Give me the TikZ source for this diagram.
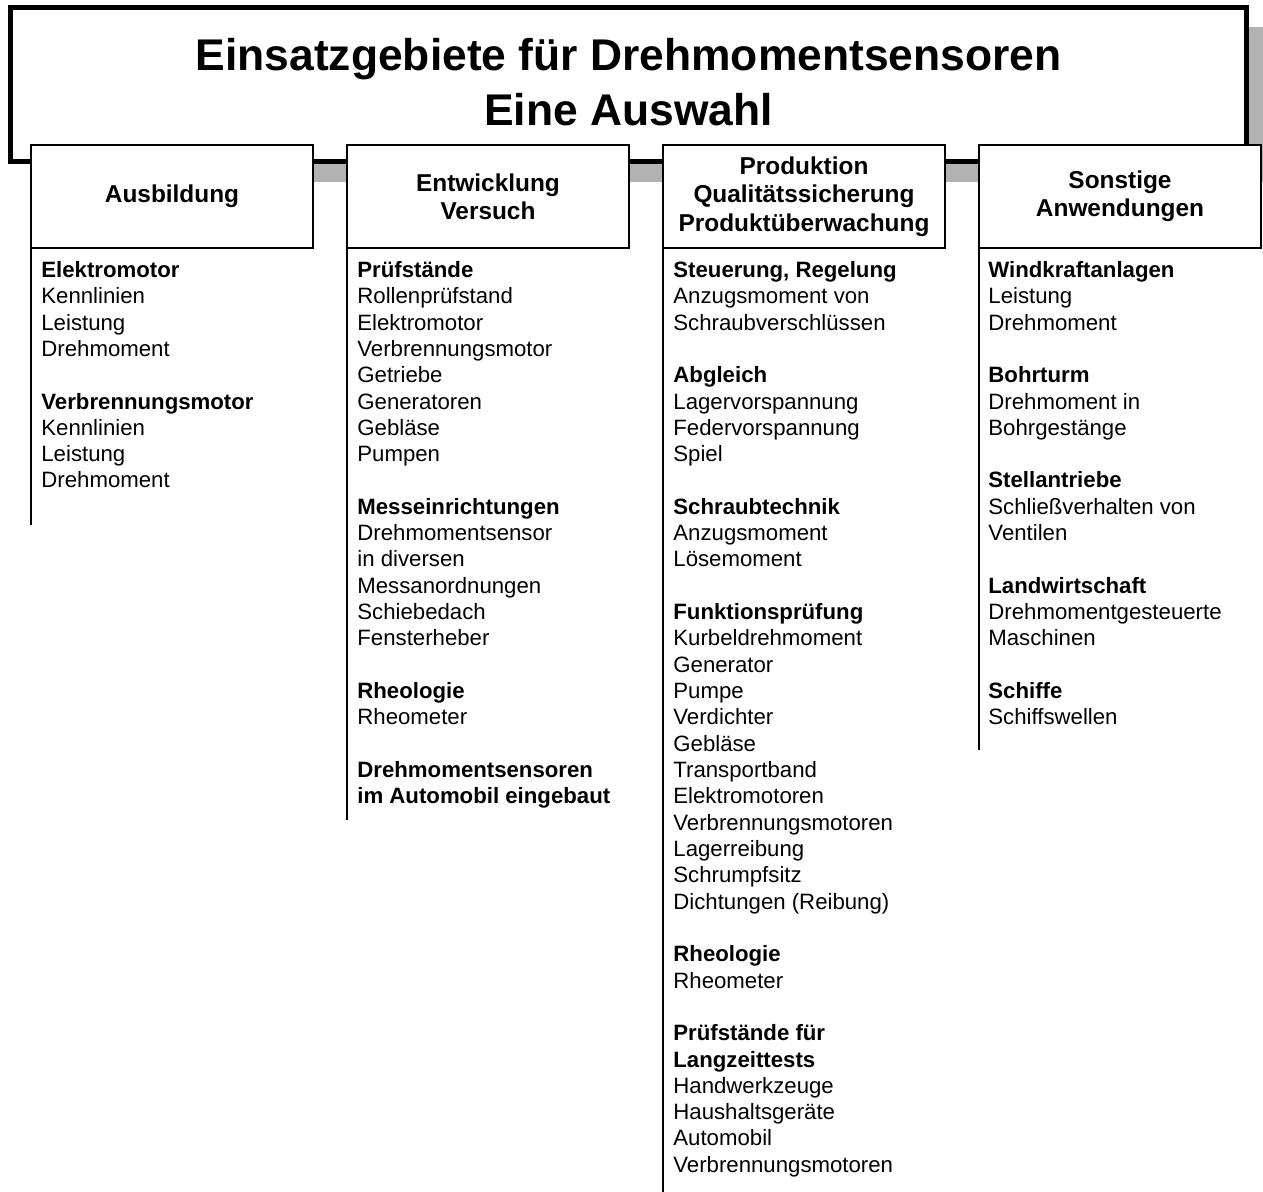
\documentclass[tikz,border=0pt]{standalone}
\usepackage{fontspec}
\setmainfont{Liberation Sans}
\usetikzlibrary{shadows}
\tikzset{
  titlebox/.style={draw,line width=2.5pt,fill=white,align=center,inner sep=0pt,outer sep=0pt,
    minimum width=617.85pt,minimum height=77.25pt,text depth=3pt,
    font=\fontsize{22.2}{27.2}\selectfont\bfseries,
    general shadow={fill=black!30,shadow xshift=10pt,shadow yshift=-10pt}},
  headbox/.style={draw,line width=0.75pt,fill=white,align=center,inner sep=0pt,outer sep=0pt,
    minimum width=141pt,minimum height=51.5pt,
    font=\fontsize{12.2}{14.2}\selectfont\bfseries},
  itemlist/.style={anchor=north west,align=left,inner sep=0pt,
    font=\fontsize{11.1}{13.16}\selectfont},
  colline/.style={line width=0.75pt}
}

\begin{document}
\begin{tikzpicture}[x=0.5pt,y=-0.5pt]
  \useasboundingbox (0,0) rectangle (1263,1192);

  % — Title box with shadow
  \node[titlebox] (title) at (628.65,84.75)
    {Einsatzgebiete für Drehmomentsensoren\\Eine Auswahl};

  % — Column heads
  \node[headbox] (h1) at (172,196.5)  {Ausbildung};
  \node[headbox] (h2) at (488,196.5)  {Entwicklung\\Versuch};
  \node[headbox] (h3) at (804,196.5)  {Produktion\\Qualitätssicherung\\Produktüberwachung};
  \node[headbox] (h4) at (1120,196.5) {Sonstige\\Anwendungen};

  % — Lines below the heads
  \coordinate (e1) at (31,525);
  \coordinate (e2) at (347,820);
  \coordinate (e3) at (663,1192);
  \coordinate (e4) at (979,750);
  \draw[colline] (h1.south west) -- (e1);
  \draw[colline] (h2.south west) -- (e2);
  \draw[colline] (h3.south west) -- (e3);
  \draw[colline] (h4.south west) -- (e4);

  % — Lists
  \node[itemlist] (list1) at (41,258.6) {\strut\textbf{Elektromotor}\\
    Kennlinien\\ Leistung\\ Drehmoment\\[\baselineskip]
    \textbf{Verbrennungsmotor}\\ Kennlinien\\ Leistung\\ Drehmoment};

  \node[itemlist] (list2) at (357,258.6) {\strut\textbf{Prüfstände}\\
    Rollenprüfstand\\ Elektromotor\\ Verbrennungsmotor\\ Getriebe\\
    Generatoren\\ Gebläse\\ Pumpen\\[\baselineskip]
    \textbf{Messeinrichtungen}\\ Drehmomentsensor\\ in diversen\\
    Messanordnungen\\ Schiebedach\\ Fensterheber\\[\baselineskip]
    \textbf{Rheologie}\\ Rheometer\\[\baselineskip]
    \textbf{Drehmomentsensoren}\\ \textbf{im Automobil eingebaut}};

  \node[itemlist] (list3) at (673,258.6) {\strut\textbf{Steuerung, Regelung}\\
    Anzugsmoment von\\ Schraubverschlüssen\\[\baselineskip]
    \textbf{Abgleich}\\ Lagervorspannung\\ Federvorspannung\\ Spiel\\[\baselineskip]
    \textbf{Schraubtechnik}\\ Anzugsmoment\\ Lösemoment\\[\baselineskip]
    \textbf{Funktionsprüfung}\\ Kurbeldrehmoment\\ Generator\\ Pumpe\\
    Verdichter\\ Gebläse\\ Transportband\\ Elektromotoren\\
    Verbrennungsmotoren\\ Lagerreibung\\ Schrumpfsitz\\
    Dichtungen (Reibung)\\[\baselineskip]
    \textbf{Rheologie}\\ Rheometer\\[\baselineskip]
    \textbf{Prüfstände für}\\ \textbf{Langzeittests}\\ Handwerkzeuge\\
    Haushaltsgeräte\\ Automobil\\ Verbrennungsmotoren};

  \node[itemlist] (list4) at (988,258.6) {\strut\textbf{Windkraftanlagen}\\
    Leistung\\ Drehmoment\\[\baselineskip]
    \textbf{Bohrturm}\\ Drehmoment in\\ Bohrgestänge\\[\baselineskip]
    \textbf{Stellantriebe}\\ Schließverhalten von\\ Ventilen\\[\baselineskip]
    \textbf{Landwirtschaft}\\ Drehmomentgesteuerte\\ Maschinen\\[\baselineskip]
    \textbf{Schiffe}\\ Schiffswellen};
\end{tikzpicture}
\end{document}
